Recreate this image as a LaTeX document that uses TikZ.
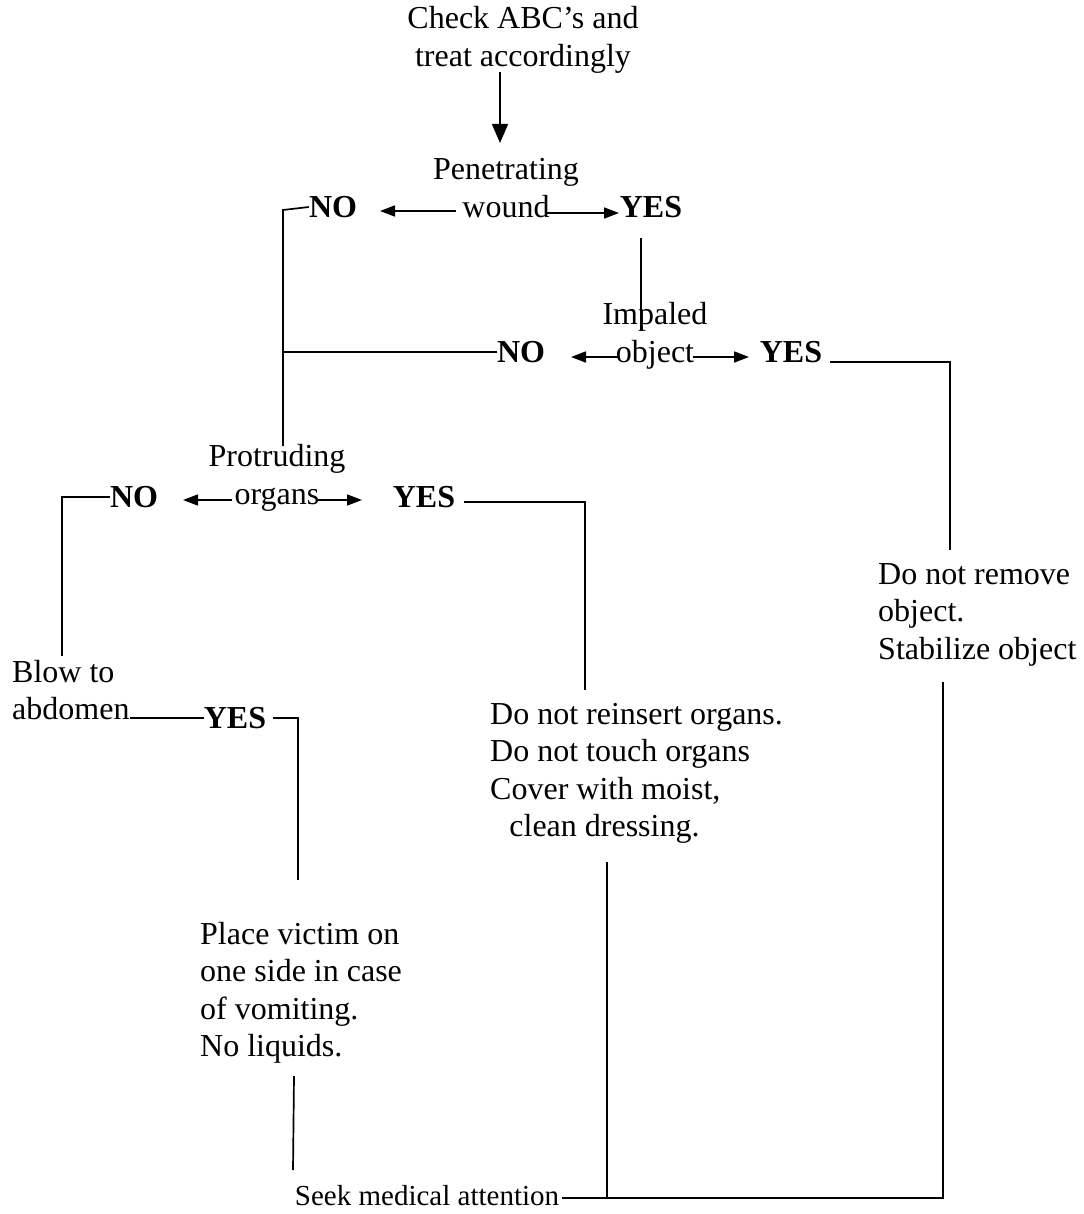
\documentclass[tikz,border=0pt]{standalone}
\usepackage{fontspec}
\setmainfont{Liberation Serif}
\usetikzlibrary{arrows.meta}
\begin{document}
\begin{tikzpicture}[x=1pt,y=-1pt,
  every node/.style={inner sep=0pt,font=\fontsize{32}{37.5}\selectfont},
  txt/.style={align=left,anchor=north west},
  ctxt/.style={align=center},
  ans/.style={font=\fontsize{32}{37.5}\selectfont\bfseries},
  link/.style={line width=1.7pt},
  arr/.style={line width=1.7pt,-{Triangle[length=15pt,width=11pt]}},
  bigarr/.style={line width=1.7pt,-{Triangle[length=19pt,width=16pt]}}]
\useasboundingbox (0,0) rectangle (1083,1214);

% question nodes
\node[ctxt] (abc) at (523,40) {Check ABC's and\\treat accordingly};
\node[ctxt] (pen) at (506,188) {Penetrating\\wound};
\node[ctxt] (imp) at (655,336) {Impaled\\object};
\node[ctxt] (pro) at (277,478) {Protruding\\organs};
\node[txt] (blow) at (12,660) {Blow to\\abdomen};

% answers
\node[ans] (no1) at (333,207) {NO};
\node[ans] (yes1) at (651,207) {YES};
\node[ans] (no2) at (521,352) {NO};
\node[ans] (yes2) at (791,352) {YES};
\node[ans] (no3) at (134,497) {NO};
\node[ans] (yes3) at (424,497) {YES};
\node[ans] (yes4) at (235,718) {YES};

% actions
\node[txt] (remove) at (878,563) {Do not remove\\object.\\Stabilize object};
\node[txt] (organs) at (490,703) {Do not reinsert organs.\\Do not touch organs\\Cover with moist,\\\hspace{0.6em}clean dressing.};
\node[txt] (place) at (200,922) {Place victim on\\one side in case\\of vomiting.\\No liquids.};
\node[font=\fontsize{29}{37}\selectfont] (seek) at (427,1196) {Seek medical attention};

% corner points
\coordinate (k1) at (283,210);
\coordinate (k2) at (283,446);
\coordinate (k3) at (950,362);
\coordinate (k4) at (950,550);
\coordinate (k5) at (62,497);
\coordinate (k6) at (62,656);
\coordinate (k7) at (585,502);
\coordinate (k8) at (585,690);
\coordinate (k9) at (298,718);
\coordinate (k10) at (298,880);
\coordinate (k11) at (943,682);
\coordinate (k12) at (943,1198);
\coordinate (k13) at (607,862);
\coordinate (k14) at (607,1198);
\coordinate (k15) at (294,1076);
\coordinate (k16) at (293,1170);

% flow from the first check
\draw[bigarr] (500,72) -- (500,143);

% penetrating wound
\draw[arr] (456,211) -- (380,211);
\draw[arr] (545,213) -- (619,213);
\draw[link] (no1.west) -- (k1) -- (k2);
\draw[link] (641,238) -- (641,331);

% impaled object
\draw[arr] (619,357) -- (571,357);
\draw[arr] (693,357) -- (749,357);
\draw[link] (283,352) -- (no2.west);
\draw[link] ([xshift=8pt]yes2.east |- k3) -- (k3) -- (k4);
\draw[link] (k11) -- (k12) -- (562,1198);

% protruding organs
\draw[arr] (232,500) -- (183,500);
\draw[arr] (318,500) -- (362,500);
\draw[link] (no3.west) -- (k5) -- (k6);
\draw[link] ([xshift=9pt]yes3.east |- k7) -- (k7) -- (k8);
\draw[link] (k13) -- (k14);

% blow to abdomen
\draw[link] (130,718) -- (yes4.west);
\draw[link] ([xshift=7pt]yes4.east |- k9) -- (k9) -- (k10);
\draw[link] (k15) -- (k16);
\end{tikzpicture}
\end{document}
